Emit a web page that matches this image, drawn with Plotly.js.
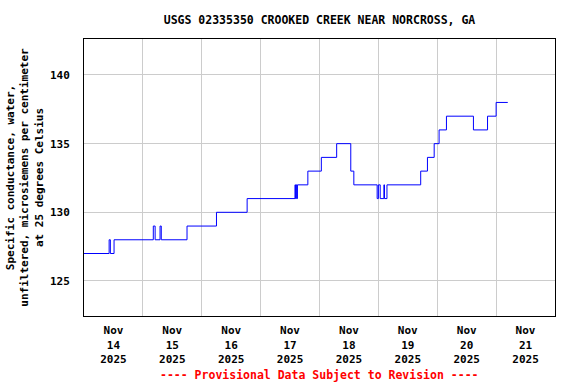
<!DOCTYPE html>
<html>
<head>
<meta charset="utf-8">
<script src="https://cdn.plot.ly/plotly-3.0.1.min.js"></script>
<style>html,body{margin:0;padding:0;background:#fff}#chart{width:576px;height:384px}</style>
</head>
<body>
<div id="chart"></div>
<script>
// Specific conductance readings at change points (uS/cm at 25 C)
const times = ['2025-11-14 00:00','2025-11-14 10:15','2025-11-14 10:45','2025-11-14 12:15',
  '2025-11-15 04:15','2025-11-15 05:00','2025-11-15 07:00','2025-11-15 07:30','2025-11-15 18:00',
  '2025-11-16 06:00','2025-11-16 18:30',
  '2025-11-17 14:00','2025-11-17 14:15','2025-11-17 14:30','2025-11-17 14:45','2025-11-17 15:00','2025-11-17 19:15',
  '2025-11-18 00:45','2025-11-18 07:00','2025-11-18 12:45','2025-11-18 14:00','2025-11-18 23:30',
  '2025-11-19 00:00','2025-11-19 00:45','2025-11-19 02:15','2025-11-19 02:30','2025-11-19 03:30',
  '2025-11-19 17:15','2025-11-19 20:00','2025-11-19 22:45',
  '2025-11-20 00:45','2025-11-20 03:45','2025-11-20 14:45','2025-11-20 20:30',
  '2025-11-21 00:00','2025-11-21 04:45'];
const values = [127,128,127,128,
  129,128,129,128,129,
  130,131,
  132,131,132,131,132,133,
  134,135,133,132,131,
  132,131,132,131,132,
  133,134,135,
  136,137,136,137,
  138,138];

const tickDates = ['2025-11-14 12:00','2025-11-15 12:00','2025-11-16 12:00','2025-11-17 12:00',
  '2025-11-18 12:00','2025-11-19 12:00','2025-11-20 12:00','2025-11-21 12:00'];
const tickLabels = ['Nov<br>14<br>2025','Nov<br>15<br>2025','Nov<br>16<br>2025','Nov<br>17<br>2025',
  'Nov<br>18<br>2025','Nov<br>19<br>2025','Nov<br>20<br>2025','Nov<br>21<br>2025'];
const yTicks = [125,130,135,140];

const FONT = 'DejaVu Sans Mono';

Plotly.newPlot('chart', [{
  x: times, y: values, type: 'scatter', mode: 'lines',
  line: {color: '#0000ff', width: 1, shape: 'hv'},
  hoverinfo: 'skip', showlegend: false
}], {
  width: 576, height: 384,
  margin: {l: 84, r: 21, t: 39, b: 68},
  paper_bgcolor: '#fff', plot_bgcolor: '#fff',
  font: {family: FONT, size: 11, color: '#000', weight: 'bold'},
  title: {text: 'USGS 02335350 CROOKED CREEK NEAR NORCROSS, GA',
    font: {family: FONT, size: 11.5, color: '#000', weight: 'bold'},
    x: 0.5, xref: 'paper', xanchor: 'center', y: 0.948, yref: 'container', yanchor: 'middle'},
  xaxis: {
    type: 'date', range: ['2025-11-14 00:00', '2025-11-22 00:00'],
    tickmode: 'array', tickvals: tickDates, ticktext: tickLabels,
    ticks: 'outside', ticklen: 4, tickcolor: 'rgba(0,0,0,0)',
    showgrid: false, zeroline: false,
    minor: {tickmode: 'linear', tick0: '2025-11-14 00:00', dtick: 86400000,
      showgrid: true, gridcolor: '#cccccc', gridwidth: 1, ticks: ''},
    showline: true, linecolor: '#000', linewidth: 1, mirror: true,
    tickfont: {family: FONT, size: 11, color: '#000', weight: 'bold'}
  },
  yaxis: {
    range: [122.45, 142.62], tickmode: 'array', tickvals: yTicks,
    ticks: 'outside', ticklen: 11, tickcolor: 'rgba(0,0,0,0)',
    showgrid: true, gridcolor: '#cccccc', gridwidth: 1, zeroline: false,
    showline: true, linecolor: '#000', linewidth: 1, mirror: true,
    tickfont: {family: FONT, size: 11, color: '#000', weight: 'bold'},
    title: {text: 'Specific conductance, water,<br>unfiltered, microsiemens per centimeter<br>at 25 degrees Celsius',
      font: {family: FONT, size: 11, color: '#000', weight: 'bold'}, standoff: 4}
  },
  annotations: [{
    text: '---- Provisional Data Subject to Revision ----',
    xref: 'paper', yref: 'paper', x: 0.5, y: -0.212, xanchor: 'center', yanchor: 'middle',
    showarrow: false, font: {family: FONT, size: 11.5, color: '#ff0000', weight: 'bold'}
  }]
}, {staticPlot: true});
</script>
</body>
</html>
